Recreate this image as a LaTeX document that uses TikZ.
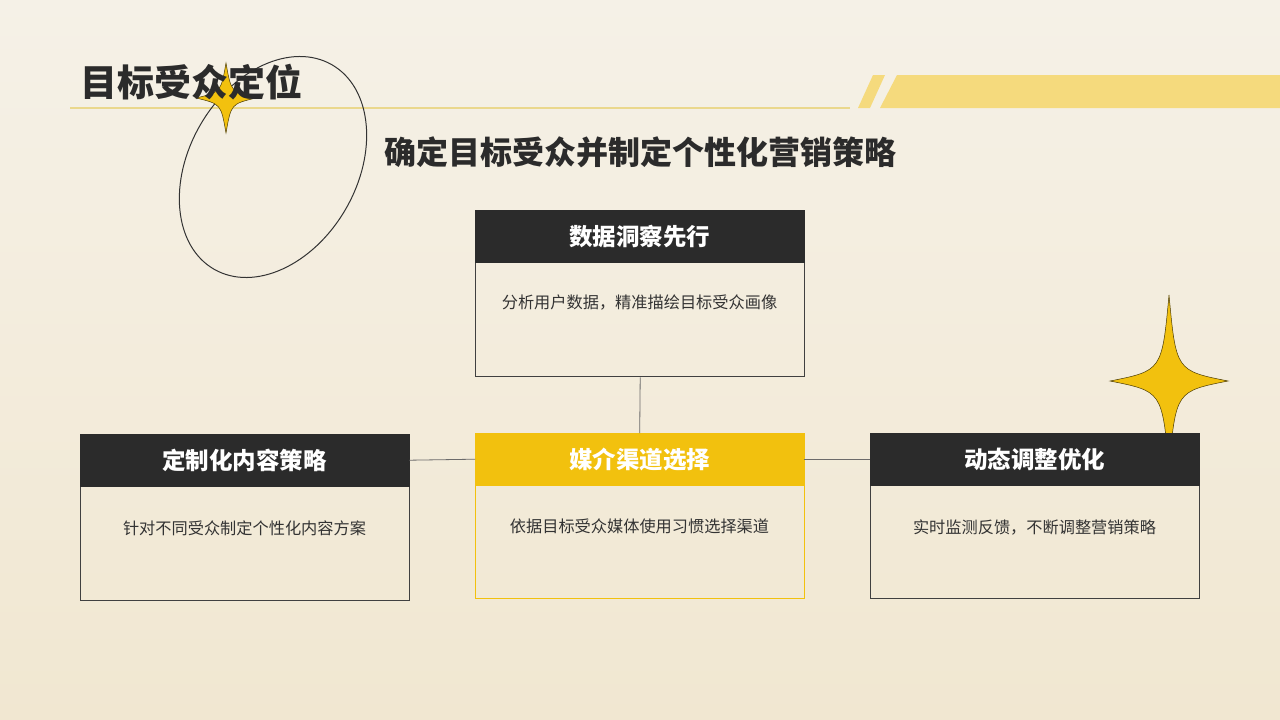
\documentclass[tikz,border=0pt]{standalone}
\usepackage{fontspec}
\setmainfont{Noto Sans CJK SC}
\definecolor{paperA}{HTML}{F5F1E7}
\definecolor{paperB}{HTML}{F1E7D1}
\definecolor{darkbar}{HTML}{2B2B2B}
\definecolor{goldbar}{HTML}{F2C10E}
\definecolor{stripe}{HTML}{F5DA7D}
\definecolor{rule}{HTML}{EAD88C}
\definecolor{txt}{HTML}{333333}
\definecolor{conn}{HTML}{6B6B6B}
\tikzset{
  hdr/.style={fill=darkbar, draw=darkbar, text=white, font=\fontsize{23.5}{28}\selectfont\bfseries, inner sep=0pt, anchor=north west, minimum width=329pt, minimum height=52pt},
  hdrgold/.style={hdr, fill=goldbar, draw=goldbar},
  bodybox/.style={draw=darkbar!90, line width=1.4pt, inner sep=0pt, anchor=north west, minimum width=329pt, minimum height=114pt},
  bodygold/.style={bodybox, draw=goldbar},
  bodytxt/.style={text=txt, font=\fontsize{16.2}{20}\selectfont, inner sep=0pt},
  connline/.style={draw=conn, line width=0.8pt},
  starfill/.style={fill=goldbar, draw=black!70!goldbar, line width=0.5pt}
}
% centre x, centre y, x radius, y radius, waist factor
\newcommand\fourstar[5]{%
  \path[starfill] (#1,#2-#4) .. controls (#1+#5*#3,#2-#5*#4) .. (#1+#3,#2)
    .. controls (#1+#5*#3,#2+#5*#4) .. (#1,#2+#4)
    .. controls (#1-#5*#3,#2+#5*#4) .. (#1-#3,#2)
    .. controls (#1-#5*#3,#2-#5*#4) .. cycle;}
\begin{document}
\begin{tikzpicture}[x=1pt,y=-1pt]
\shade[top color=paperA, bottom color=paperB] (0,0) rectangle (1280,720);
\useasboundingbox (0,0) rectangle (1280,720);
% decorative stripes
\fill[stripe] (897,75) -- (1280,75) -- (1280,108) -- (880,108) -- cycle;
\fill[stripe] (873,75) -- (885,75) -- (870,108) -- (858,108) -- cycle;
\draw[rule, line width=1.2pt] (70,108) -- (850,108);
% ellipse and small star
\draw[black!80, line width=1pt, rotate around={60:(273,167)}] (273,167) ellipse [x radius=118, y radius=84];
\fourstar{226}{98}{30}{35}{0.17}
\node[anchor=west, text=darkbar, font=\fontsize{37}{42}\selectfont\bfseries, inner sep=0pt] (title) at (80,82) {目标受众定位};
\node[text=darkbar, font=\fontsize{32}{36}\selectfont\bfseries, inner sep=0pt] (subtitle) at (640,152) {确定目标受众并制定个性化营销策略};
% big star behind right box
\fourstar{1169}{381}{59}{86}{0.12}
% top box
\node[bodybox] (tb) at (475,262) {};
\node[hdr] (th) at (475,210) {数据洞察先行};
\node[bodytxt] (tt) at (639.5,303) {分析用户数据，精准描绘目标受众画像};
% left box
\node[bodybox] (lb) at (80,486) {};
\node[hdr] (lh) at (80,434) {定制化内容策略};
\node[bodytxt] (lt) at (244.5,528) {针对不同受众制定个性化内容方案};
% middle box
\node[bodygold] (mb) at (475,484) {};
\node[hdrgold] (mh) at (475,433) {媒介渠道选择};
\node[bodytxt] (mt) at (639.5,526) {依据目标受众媒体使用习惯选择渠道};
% right box
\node[bodybox] (rb) at (870,484) {};
\node[hdr] (rh) at (870,433) {动态调整优化};
\node[bodytxt] (rt) at (1034.5,527) {实时监测反馈，不断调整营销策略};
% connectors
\draw[connline] (tb.south) -- (mh.north);
\draw[connline] (lh.east) -- (mh.west);
\draw[connline] (mh.east) -- (rh.west);
\end{tikzpicture}
\end{document}
